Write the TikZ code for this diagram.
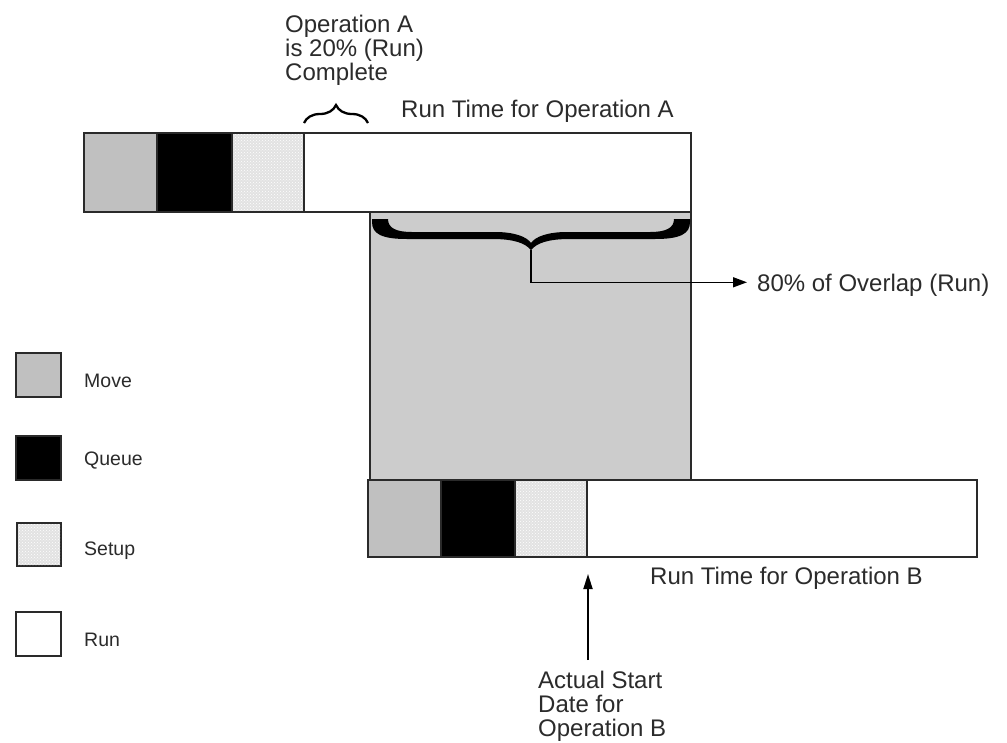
\documentclass[tikz,border=0pt]{standalone}
\usepackage{fontspec}
\setmainfont{Liberation Sans}
\usetikzlibrary{arrows.meta,patterns,decorations.pathreplacing}
\definecolor{movec}{HTML}{C0C0C0}
\definecolor{overc}{HTML}{CCCCCC}
\definecolor{setupc}{HTML}{E2E2E2}
\definecolor{edgec}{HTML}{2A2A2A}
\definecolor{textc}{HTML}{2B2B2B}
\begin{document}
\begin{tikzpicture}[x=1pt,y=-1pt,
  seg/.style={draw=edgec,line width=1.8pt},
  lbl/.style={font=\fontsize{24}{24}\selectfont,text=textc,inner sep=0pt},
  leg/.style={font=\fontsize{19.5}{22}\selectfont,text=textc,inner sep=0pt,anchor=base west},
  conn/.style={draw=black,line width=1.5pt},
  dotsfill/.style={pattern=crosshatch dots,pattern color=white},
]
\useasboundingbox[fill=white] (0,0) rectangle (1007,742);
% overlap region
\filldraw[fill=overc,draw=edgec,line width=1.5pt] (370,212) rectangle (691,480);
% top bar (Operation A)
\fill[movec] (84,133) rectangle (157,212);
\fill[black] (157,133) rectangle (232,212);
\fill[setupc] (232,133) rectangle (304,212);
\fill[dotsfill] (232,133) rectangle (304,212);
\fill[white] (304,133) rectangle (691,212);
\draw[seg] (84,133) rectangle (691,212);
\draw[seg] (157,133) -- (157,212) (232,133) -- (232,212) (304,133) -- (304,212);
% bottom bar (Operation B)
\fill[movec] (368,480) rectangle (441,557);
\fill[black] (441,480) rectangle (515,557);
\fill[setupc] (515,480) rectangle (587,557);
\fill[dotsfill] (515,480) rectangle (587,557);
\fill[white] (587,480) rectangle (977,557);
\draw[seg] (368,480) rectangle (977,557);
\draw[seg] (441,480) -- (441,557) (515,480) -- (515,557) (587,480) -- (587,557);
% legend
\filldraw[fill=movec,draw=edgec,line width=1.8pt] (16,353) rectangle (61,397);
\filldraw[fill=black,draw=edgec,line width=1.8pt] (16,436) rectangle (61,480);
\filldraw[fill=setupc,draw=edgec,line width=1.8pt] (17,523) rectangle (61,566);
\fill[dotsfill] (18,524) rectangle (60,565);
\filldraw[fill=white,draw=edgec,line width=1.8pt] (16,612) rectangle (61,656);
\node[leg] (lmove) at (84,387) {Move};
\node[leg] (lqueue) at (84,465) {Queue};
\node[leg] (lsetup) at (84,555) {Setup};
\node[leg] (lrun) at (84,646) {Run};
% small brace
\draw[line width=2.3pt,black,decorate,decoration={brace,amplitude=18pt}] (304,123) -- (368,123);
% big brace
\fill[black] (372,219) -- (388,219) .. controls (388,228) and (396,232) .. (412,232) -- (495,232)
  .. controls (515,232) and (527,237) .. (531,243)
  .. controls (535,237) and (547,232) .. (567,232) -- (650,232)
  .. controls (666,232) and (674,228) .. (674,219) -- (690,219) -- (690,222)
  .. controls (690,234) and (680,239) .. (655,239) -- (570,239)
  .. controls (548,239) and (537,243) .. (531,250)
  .. controls (525,243) and (514,239) .. (492,239) -- (407,239)
  .. controls (382,239) and (372,234) .. (372,222) -- cycle;
% labels
\node[lbl,anchor=north west,align=left] (opA) at (285,15) {Operation A\\is 20\% (Run)\\Complete};
\node[lbl,anchor=base west] (rtA) at (401,117.5) {Run Time for Operation A};
\node[lbl,anchor=base west] (ov) at (757,291.5) {80\% of Overlap (Run)};
\node[lbl,anchor=base west] (rtB) at (650,584) {Run Time for Operation B};
\node[lbl,anchor=north west,align=left] (as) at (538,671) {Actual Start\\Date for\\Operation B};
% connectors
\coordinate (btip) at (531,250);
\draw[conn,-{Triangle[length=14pt,width=10pt]}] (btip) |- ([xshift=-10pt,yshift=3pt]ov.west);
\coordinate (asb) at (588,660);
\coordinate (ast) at (588,574);
\draw[conn,line width=1.8pt,-{Triangle[length=15pt,width=9pt]}] (asb) -- (ast);
\end{tikzpicture}
\end{document}
